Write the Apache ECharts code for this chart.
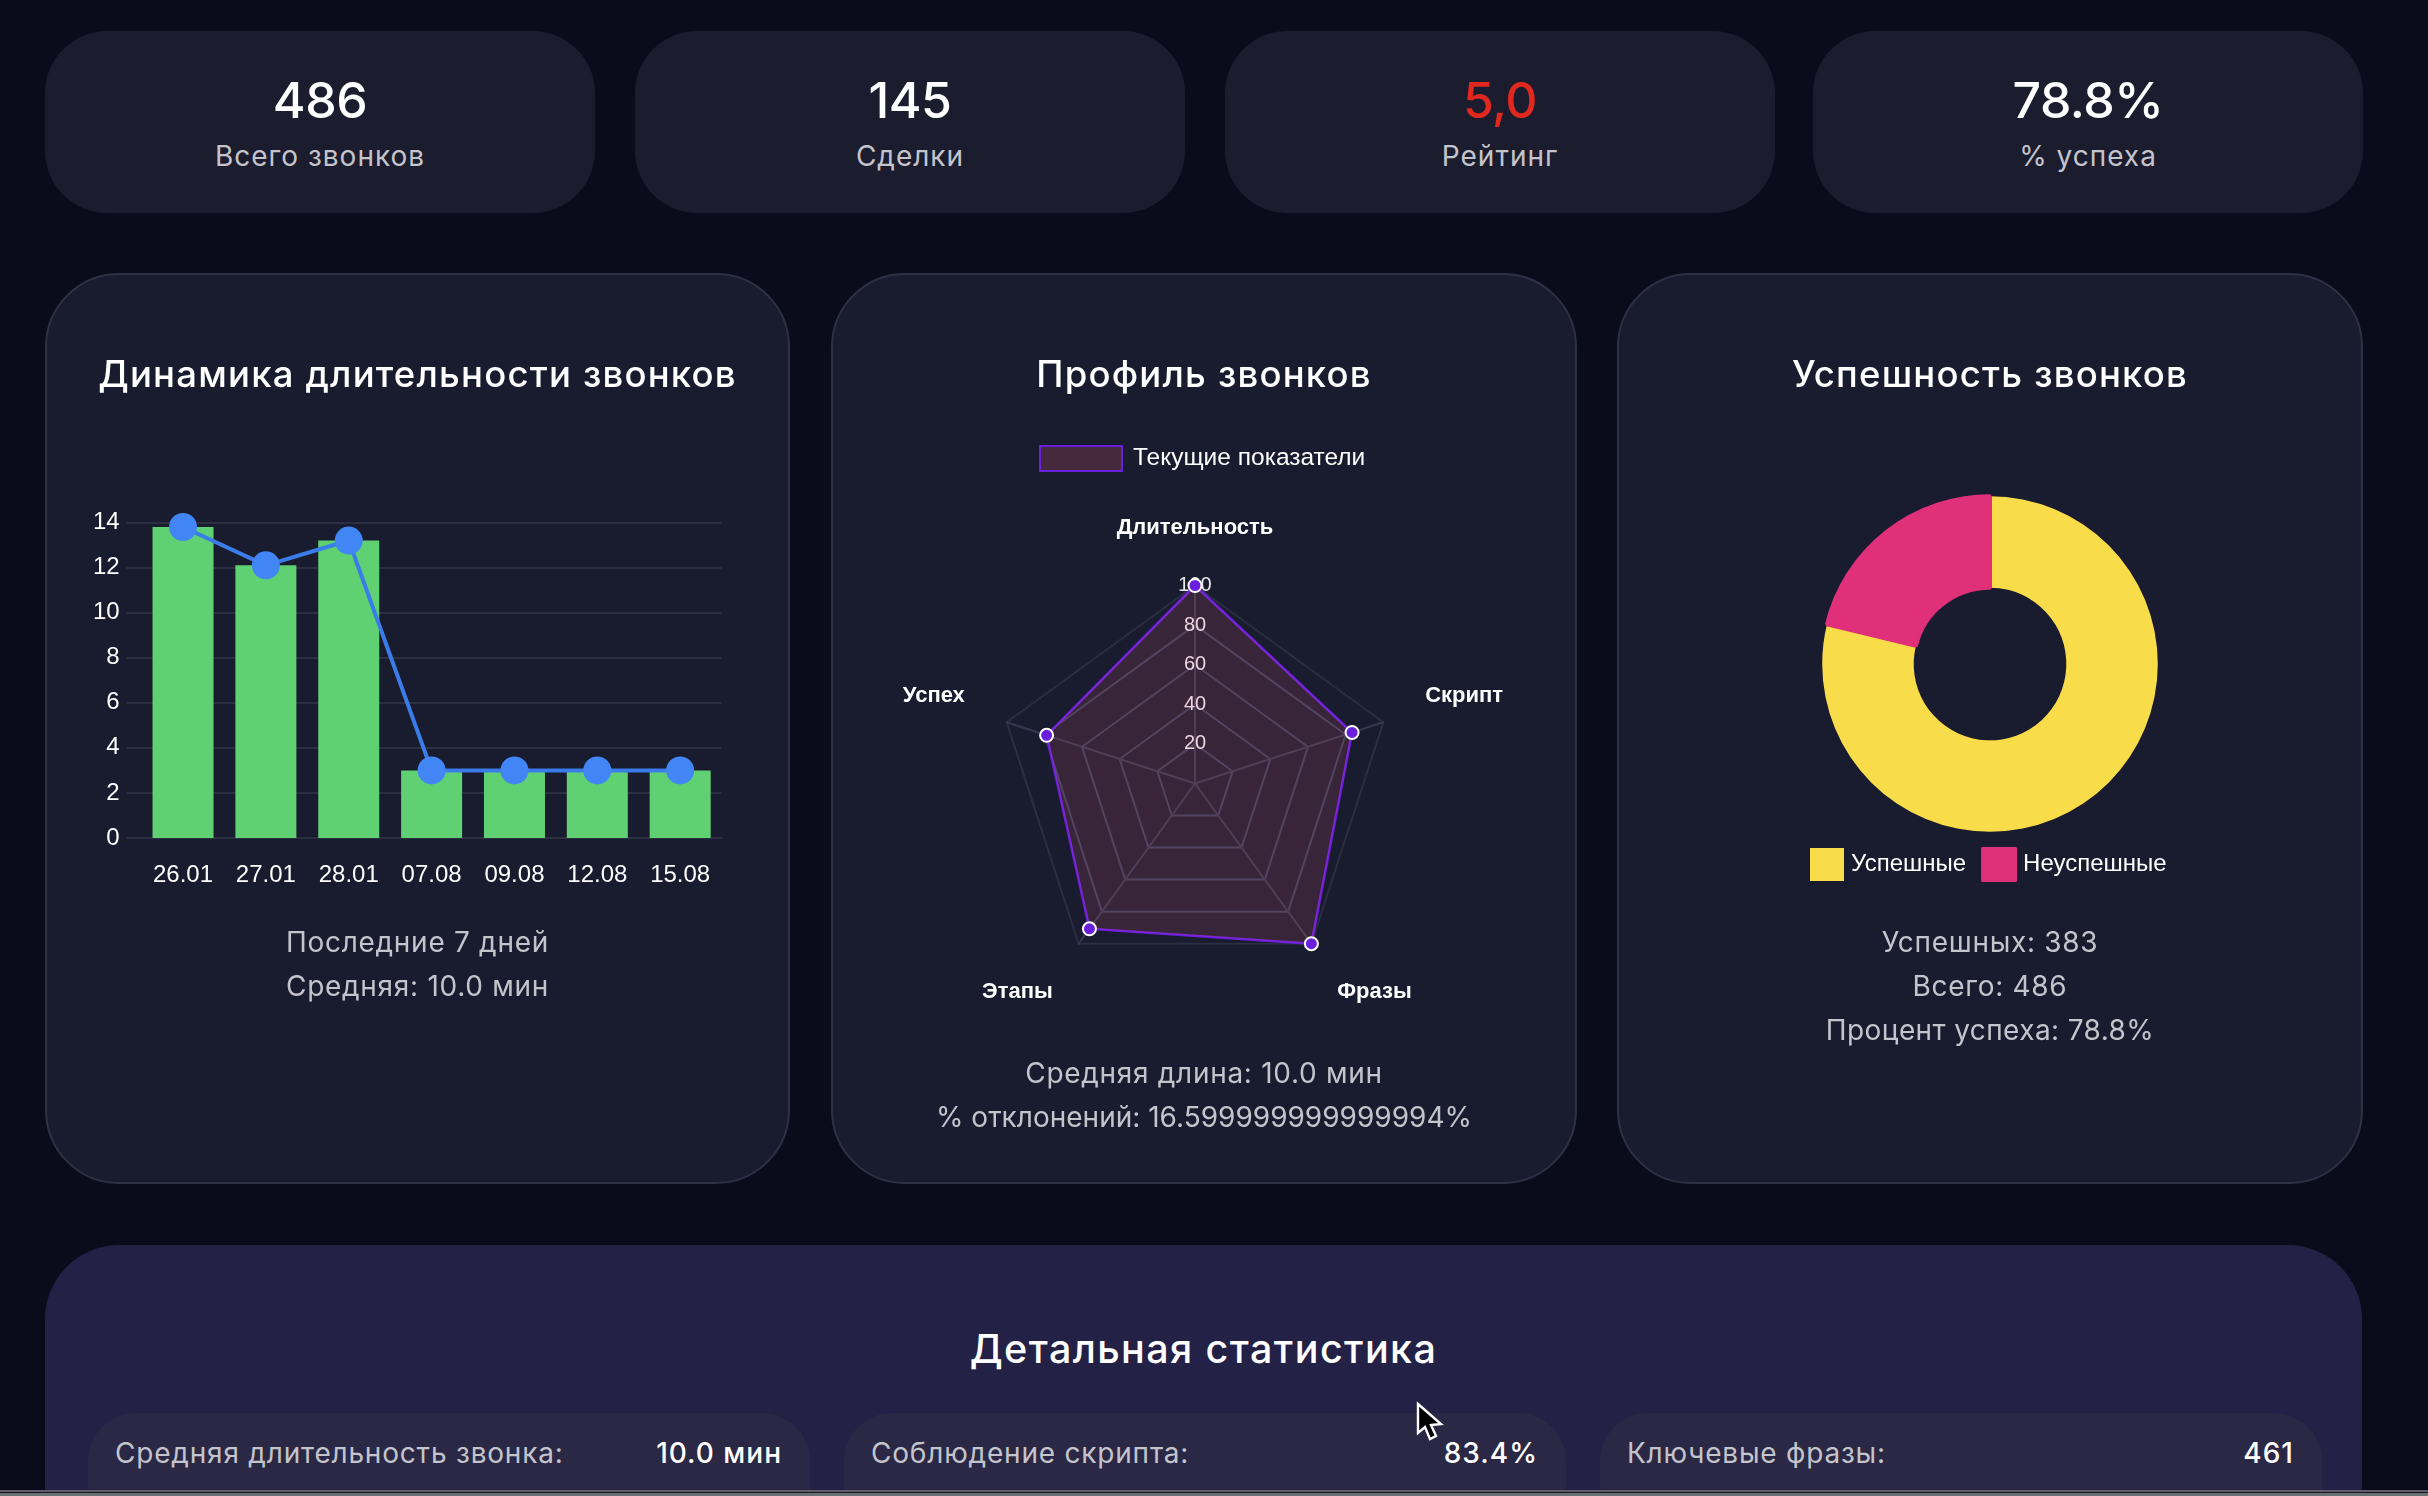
<!DOCTYPE html>
<html>
<head>
<meta charset="utf-8">
<title>Статистика звонков</title>
<script src="https://cdn.jsdelivr.net/npm/echarts@6/dist/echarts.min.js"></script>
<style>
    html, body { margin: 0; padding: 0; width: 2428px; height: 1496px; overflow: hidden; background: #0a0c1c; }
    body { font-family: Inter, "Noto Sans", sans-serif; color: #fff; position: relative; }
    .box { position: absolute; box-sizing: border-box; }
    .kpi { top: 31px; width: 550px; height: 182px; background: #1b1c2e; border-radius: 62px; text-align: center; }
    .kpi .num { position: absolute; left: 0; right: 0; top: 38px; font-size: 50px; line-height: 62px; font-weight: 500; letter-spacing: -0.5px; }
    .kpi .lbl { position: absolute; left: 0; right: 0; top: 105px; font-size: 28px; line-height: 40px; color: #c4c4cc; letter-spacing: 1px; }
    .card { top: 273px; width: 746px; height: 911px; background: #191b2e; border: 2px solid #2e3044; border-radius: 74px; }
    .card h3 { position: absolute; left: 0; right: 0; top: 76px; margin: 0; text-align: center; font-size: 36.5px; line-height: 46px; font-weight: 500; letter-spacing: 1.2px; }
    .chart { position: absolute; left: -2px; top: -1px; width: 746px; height: 909px; }
    .sub { position: absolute; left: 0; right: 0; text-align: center; font-size: 28px; line-height: 44px; color: #c4c4cc; letter-spacing: 0.7px; }
    .detail { left: 45px; top: 1245px; width: 2317px; height: 400px; background: #232145; border-radius: 74px; }
    .detail h3 { position: absolute; left: 0; right: 0; top: 81px; margin: 0; text-align: center; font-size: 39.5px; line-height: 46px; font-weight: 500; letter-spacing: 1.4px; }
    .row { top: 1413px; width: 722px; height: 120px; background: #2a2845; border-radius: 48px; }
    .row span { position: absolute; top: 20px; font-size: 28px; line-height: 40px; letter-spacing: 0.8px; }
    .row .k { left: 27px; color: #c4c4cc; }
    .row .v { right: 28px; font-weight: 500; letter-spacing: 1px; }
    .strip { left: 0; top: 1490px; width: 2428px; height: 6px; background: linear-gradient(#5f5d6d 0 2px, #16161e 2px 3px, #6b7072 3px); }
    .cursor { left: 1414px; top: 1401px; width: 30px; height: 42px; }
</style>
</head>
<body>

<div class="box kpi" style="left:45px"><div class="num">486</div><div class="lbl">Всего звонков</div></div>
<div class="box kpi" style="left:635px"><div class="num">145</div><div class="lbl">Сделки</div></div>
<div class="box kpi" style="left:1225px"><div class="num" style="color:#e0281e">5,0</div><div class="lbl">Рейтинг</div></div>
<div class="box kpi" style="left:1813px"><div class="num">78.8%</div><div class="lbl">% успеха</div></div>

<div class="box card" style="left:45px; width:745px">
    <div class="chart" id="duration_chart"></div>
    <h3>Динамика длительности звонков</h3>
    <div class="sub" style="top:645px">Последние 7 дней</div>
    <div class="sub" style="top:689px">Средняя: 10.0 мин</div>
</div>
<div class="box card" style="left:831px">
    <div class="chart" id="profile_chart"></div>
    <h3>Профиль звонков</h3>
    <div class="sub" style="top:776px">Средняя длина: 10.0 мин</div>
    <div class="sub" style="top:820px; letter-spacing:0">% отклонений: 16.599999999999994%</div>
</div>
<div class="box card" style="left:1617px">
    <div class="chart" id="success_chart"></div>
    <h3>Успешность звонков</h3>
    <div class="sub" style="top:645px">Успешных: 383</div>
    <div class="sub" style="top:689px">Всего: 486</div>
    <div class="sub" style="top:733px; letter-spacing:0.4px">Процент успеха: 78.8%</div>
</div>

<div class="box detail"><h3>Детальная статистика</h3></div>
<div class="box row" style="left:88px"><span class="k">Средняя длительность звонка:</span><span class="v">10.0 мин</span></div>
<div class="box row" style="left:844px"><span class="k">Соблюдение скрипта:</span><span class="v">83.4%</span></div>
<div class="box row" style="left:1600px"><span class="k">Ключевые фразы:</span><span class="v">461</span></div>

<div class="box strip"></div>
<svg class="box cursor" viewBox="0 0 30 42"><path d="M4 3 L4 32 L11 26 L16 38 L22 35 L17 24 L27 23 Z" fill="#000" stroke="#fff" stroke-width="2.4"/></svg>

<script type="text/javascript">
    var days = ['26.01', '27.01', '28.01', '07.08', '09.08', '12.08', '15.08'];
    var durations = [13.8, 12.1, 13.2, 3, 3, 3, 3];

    // echarts walks the radar counter-clockwise, so the order is top, left, then round
    var profileNames = ['Длительность', 'Успех', 'Этапы', 'Фразы', 'Скрипт'];
    var profileValues = [100, 78.8, 90.7, 100, 83.4];

    var successNames = ['Успешные', 'Неуспешные'];
    var successValues = [383, 103];

    var labelFont = '"Liberation Sans", Arial, sans-serif';
    var gridColor = '#2c2e42';

    function creatDurationChart() {
        var chart = echarts.init(document.getElementById('duration_chart'));
        chart.setOption({
            animation: false,
            grid: { left: 96.6, top: 248.5, width: 580, height: 315.5 },
            xAxis: {
                type: 'category',
                data: days,
                axisLine: { lineStyle: { color: gridColor, width: 2 } },
                axisTick: { show: false },
                axisLabel: { color: '#fff', fontFamily: labelFont, fontSize: 24, margin: 25 }
            },
            yAxis: {
                type: 'value',
                min: 0,
                max: 14,
                interval: 2,
                axisLine: { show: false },
                axisTick: { show: true, length: 15, lineStyle: { color: gridColor, width: 2 } },
                splitLine: { lineStyle: { color: gridColor, width: 2 } },
                axisLabel: { color: '#fff', fontFamily: labelFont, fontSize: 24, margin: 22, padding: [6, 0, 0, 0] }
            },
            series: [
                {
                    type: 'bar',
                    data: durations,
                    barWidth: 61,
                    itemStyle: { color: '#60d173' }
                },
                {
                    type: 'line',
                    data: durations,
                    symbol: 'circle',
                    symbolSize: 28,
                    lineStyle: { color: '#3b7de8', width: 4 },
                    itemStyle: { color: '#4285f4' }
                }
            ]
        });
    }

    function creatProfileChart() {
        var chart = echarts.init(document.getElementById('profile_chart'));
        var indicators = profileNames.map(function (name) {
            return { name: name, min: 0, max: 100 };
        });
        indicators[0].axisLabel = {
            show: true,
            color: 'rgba(255,255,255,0.9)',
            fontFamily: labelFont,
            fontSize: 20,
            margin: 0,
            align: 'center',
            verticalAlign: 'middle',
            showMinLabel: false
        };
        var nameStyle = { color: '#fff', fontFamily: labelFont, fontSize: 22, fontWeight: 'bold' };
        chart.setOption({
            animation: false,
            legend: {
                left: 203,
                top: 166,
                itemWidth: 82,
                itemHeight: 25,
                data: [{
                    name: 'Текущие показатели',
                    icon: 'rect',
                    itemStyle: { color: 'rgba(255,99,132,0.2)', borderColor: '#6a1fdc', borderWidth: 2 }
                }],
                textStyle: { color: '#fff', fontFamily: labelFont, fontSize: 24.5, padding: [0, 0, 0, 6] }
            },
            radar: {
                center: [364, 509.5],
                radius: 198,
                startAngle: 90,
                splitNumber: 5,
                axisNameGap: 44,
                axisName: {
                    color: '#fff',
                    fontFamily: labelFont,
                    fontSize: 22,
                    fontWeight: 'bold',
                    formatter: function (name) {
                        if (name === 'Успех' || name === 'Скрипт') return '{side|' + name + '}';
                        if (name === 'Этапы' || name === 'Фразы') return '{low|' + name + '}';
                        return '{top|' + name + '}';
                    },
                    rich: {
                        top: Object.assign({ padding: [0, 0, 3, 0] }, nameStyle),
                        side: Object.assign({ padding: [0, 0, 26, 0] }, nameStyle),
                        low: Object.assign({ padding: [25, 0, 0, 0] }, nameStyle)
                    }
                },
                axisLine: { lineStyle: { color: '#343850', width: 2 } },
                splitLine: { lineStyle: { color: ['#36405a', '#36405a', '#36405a', '#36405a', '#36405a', gridColor], width: 2 } },
                splitArea: { show: false },
                axisLabel: { show: false },
                indicator: indicators
            },
            series: [{
                type: 'radar',
                name: 'Текущие показатели',
                symbol: 'circle',
                symbolSize: 13,
                lineStyle: { color: '#6a1fdc', width: 2.5 },
                areaStyle: { color: 'rgba(255,99,132,0.2)' },
                itemStyle: { color: '#6a1fdc', borderColor: '#fff', borderWidth: 2 },
                data: [{ name: 'Текущие показатели', value: profileValues }]
            }]
        });
    }

    function creatSuccessChart() {
        var chart = echarts.init(document.getElementById('success_chart'));
        chart.setOption({
            animation: false,
            color: ['#f9dc4a', '#e0307a'],
            legend: {
                left: 188,
                top: 568,
                icon: 'rect',
                itemWidth: 34,
                itemHeight: 33,
                itemGap: 15,
                data: successNames,
                textStyle: { color: '#fff', fontFamily: labelFont, fontSize: 24, padding: [0, 0, 0, 2] }
            },
            series: [{
                type: 'pie',
                center: [373, 390],
                radius: [76.3, 167.8],
                startAngle: 90,
                label: { show: false },
                data: [
                    { name: successNames[0], value: successValues[0] },
                    { name: successNames[1], value: successValues[1], itemStyle: { borderColor: '#e0307a', borderWidth: 4, borderJoin: 'bevel' } }
                ]
            }]
        });
    }

    creatDurationChart();
    creatProfileChart();
    creatSuccessChart();
</script>
</body>
</html>
